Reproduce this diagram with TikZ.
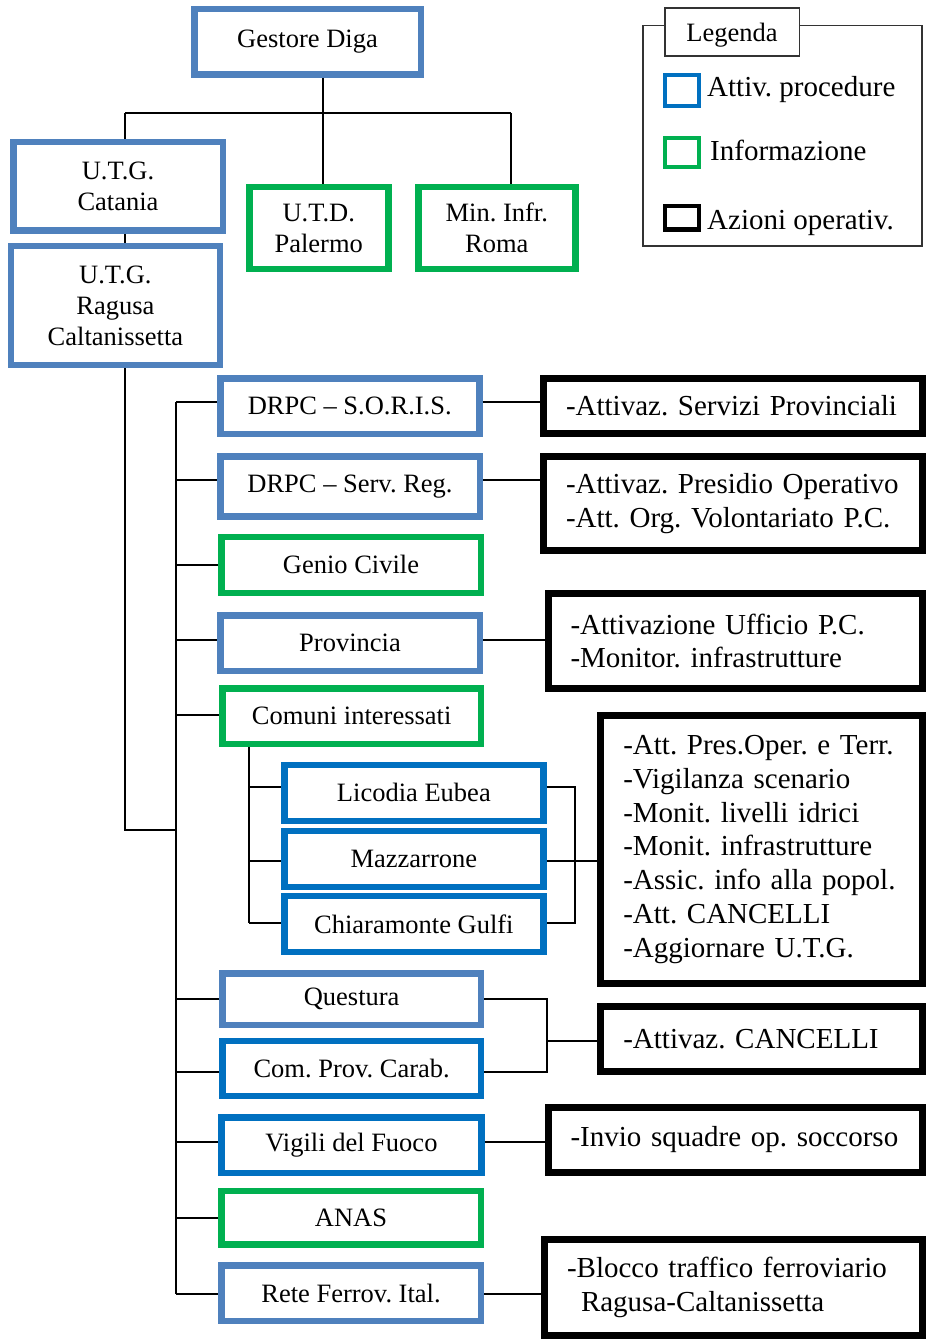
\documentclass[tikz,border=0pt]{standalone}
\usepackage{fontspec}
\setmainfont{Liberation Serif}
\definecolor{lblue}{RGB}{79,129,189}
\definecolor{dblue}{RGB}{0,112,192}
\definecolor{igreen}{RGB}{0,176,80}
\newcommand{\lbfont}{\fontsize{26.5}{31}\selectfont}
\newcommand{\acfont}{\fontsize{29}{33.7}\selectfont}
\frenchspacing
\begin{document}
\frenchspacing
\begin{tikzpicture}[x=1pt,y=-1pt,
  cb/.style 2 args={draw, line width=6.5pt, minimum width={#1-6.5}, minimum height={#2-6.5}, inner sep=0pt, align=center, font=\lbfont\frenchspacing},
  ab/.style 2 args={draw=black, line width=7pt, text width=#1, minimum height={#2-7}, inner xsep=22.5pt, inner ysep=0pt, align=left, font=\acfont\frenchspacing},
  con/.style={line width=2pt, draw=black},
  keybox/.style={line width=4pt, inner sep=0pt},
  keytext/.style={anchor=west, inner sep=0pt, font=\acfont\frenchspacing}
]
\useasboundingbox (0,0) rectangle (926,1340);

% top part
\node[cb={233}{72}, draw=lblue] (gestore) at (307.5,42) {Gestore Diga};
\node[cb={216}{95}, draw=lblue] (catania) at (118,186.5) {U.T.G.\\Catania};
\node[cb={215.3}{125}, draw=lblue] (ragusa) at (115.4,305.5) {U.T.G.\\Ragusa\\Caltanissetta};
\node[cb={145.5}{88}, draw=igreen] (utd) at (318.75,228) {U.T.D.\\Palermo};
\node[cb={163.6}{88}, draw=igreen] (mininfr) at (496.8,228) {Min. Infr.\\Roma};

% left column
\node[cb={265.5}{62}, draw=lblue] (soris) at (349.75,406) {DRPC -- S.O.R.I.S.};
\node[cb={266}{66.5}, draw=lblue] (servreg) at (350,486.25) {DRPC -- Serv. Reg.};
\node[cb={266}{62.5}, draw=igreen] (genio) at (351,564.75) {Genio Civile};
\node[cb={266}{62}, draw=lblue] (prov) at (350,643) {Provincia};
\node[cb={265.3}{62.3}, draw=igreen] (comuni) at (351.65,716.15) {Comuni interessati};
\node[cb={265.7}{62.3}, draw=dblue] (licodia) at (413.85,792.85) {Licodia Eubea};
\node[cb={265.7}{62.3}, draw=dblue] (mazz) at (413.85,858.85) {Mazzarrone};
\node[cb={265.7}{62.3}, draw=dblue] (chiar) at (413.85,923.85) {Chiaramonte Gulfi};
\node[cb={265.3}{58.3}, draw=lblue] (questura) at (351.65,999.15) {Questura};
\node[cb={265.3}{61.3}, draw=dblue] (carab) at (351.65,1068.35) {Com. Prov. Carab.};
\node[cb={266.3}{62}, draw=dblue] (vigili) at (351.45,1145) {Vigili del Fuoco};
\node[cb={266}{60}, draw=igreen] (anas) at (351,1217.7) {ANAS};
\node[cb={266}{62.3}, draw=lblue] (rete) at (351,1293.15) {Rete Ferrov. Ital.};

% action boxes
\node[ab={334pt}{62}] (sorisA) at (733,406) {\mbox{-Attivaz. Servizi Provinciali}};
\node[ab={334pt}{101}] (servA) at (733,503.8) {\mbox{-Attivaz. Presidio Operativo}\\\mbox{-Att. Org. Volontariato P.C.}};
\node[ab={329.5pt}{101.7}] (provA) at (735.25,640.85) {\mbox{-Attivazione Ufficio P.C.}\\\mbox{-Monitor. infrastrutture}};
\node[ab={276.7pt}{274.4}] (bigA) at (761.65,849.5) {\mbox{-Att. Pres.Oper. e Terr.}\\\mbox{-Vigilanza scenario}\\\mbox{-Monit. livelli idrici}\\\mbox{-Monit. infrastrutture}\\\mbox{-Assic. info alla popol.}\\\mbox{-Att. CANCELLI}\\\mbox{-Aggiornare U.T.G.}};
\node[ab={276.7pt}{72.5}] (cancA) at (761.65,1038.75) {\mbox{-Attivaz. CANCELLI}};
\node[ab={329.5pt}{72}] (vigA) at (735.25,1140) {\mbox{-Invio squadre op. soccorso}};
\node[ab={333pt}{103.3}] (reteA) at (733.5,1287.65) {\mbox{-Blocco traffico ferroviario}\\\mbox{\hspace*{14pt}Ragusa-Caltanissetta}};

% legend
\node[draw=black!80, line width=1.5pt, minimum width=279.2, minimum height=220.2, inner sep=0pt] (legend) at (782.35,135.85) {};
\node[draw=black!80, fill=white, line width=1.5pt, minimum width=134.5, minimum height=47.9, inner sep=0pt, text depth=0pt, font=\lbfont] (legtitle) at (732,32) {Legenda};
\node[keybox, draw=dblue, minimum width=34.3, minimum height=31.6] (keyb) at (681.85,90.5) {};
\node[keybox, draw=igreen, minimum width=34.3, minimum height=29] (keyg) at (681.85,152.5) {};
\node[keybox, draw=black, line width=4.5pt, minimum width=33.8, minimum height=23.2] (keyk) at (681.85,217.85) {};
\node[keytext] (keybt) at (707,90) {Attiv. procedure};
\node[keytext] (keygt) at (710,150) {Informazione};
\node[keytext] (keykt) at (707,222.5) {Azioni operativ.};

% connectors top
\coordinate (busL) at (125,113);
\coordinate (busM) at (323.4,113);
\coordinate (busR) at (511,113);
\draw[con] (gestore.south -| busM) -- (busM);
\draw[con] (busL) -- (busR);
\draw[con] (busL) -- (catania.north -| busL);
\draw[con] (busM) -- (utd.north -| busM);
\draw[con] (busR) -- (mininfr.north -| busR);
\draw[con] (catania.south -| busL) -- (ragusa.north -| busL);

% trunk
\coordinate (trunk) at (176,830);
\coordinate (j1) at (176,402);
\coordinate (j2) at (176,480);
\coordinate (j3) at (176,565);
\coordinate (j4) at (176,640);
\coordinate (j5) at (176,715);
\coordinate (j6) at (176,999);
\coordinate (j7) at (176,1071.7);
\coordinate (j8) at (176,1141.7);
\coordinate (j9) at (176,1217.7);
\coordinate (j10) at (176,1294);
\draw[con] (ragusa.south -| busL) |- (trunk);
\draw[con] (j1) -- (j10);
\draw[con] (j1) -- (j1 -| soris.west);
\draw[con] (j2) -- (j2 -| servreg.west);
\draw[con] (j3) -- (j3 -| genio.west);
\draw[con] (j4) -- (j4 -| prov.west);
\draw[con] (j5) -- (j5 -| comuni.west);
\draw[con] (j6) -- (j6 -| questura.west);
\draw[con] (j7) -- (j7 -| carab.west);
\draw[con] (j8) -- (j8 -| vigili.west);
\draw[con] (j9) -- (j9 -| anas.west);
\draw[con] (j10) -- (j10 -| rete.west);

% to action boxes
\draw[con] (soris.east |- j1) -- (j1 -| sorisA.west);
\draw[con] (servreg.east |- j2) -- (j2 -| servA.west);
\draw[con] (prov.east |- j4) -- (j4 -| provA.west);
\draw[con] (vigili.east |- j8) -- (j8 -| vigA.west);
\draw[con] (rete.east |- j10) -- (j10 -| reteA.west);

% comuni subtree
\coordinate (k1) at (249.3,787.3);
\coordinate (k2) at (249.3,861);
\coordinate (k3) at (249.3,922.7);
\draw[con] (comuni.south -| k1) -- (k3);
\draw[con] (k1) -- (k1 -| licodia.west);
\draw[con] (k2) -- (k2 -| mazz.west);
\draw[con] (k3) -- (k3 -| chiar.west);
\coordinate (r1) at (575.3,787.3);
\coordinate (r3) at (575.3,922.7);
\draw[con] (licodia.east |- r1) -- (r1) -- (r3) -- (r3 -| chiar.east);
\draw[con] (mazz.east |- k2) -- (k2 -| bigA.west);

% questura / carab
\coordinate (q1) at (547.3,999);
\coordinate (q2) at (547.3,1071.7);
\coordinate (q3) at (547.3,1040.7);
\draw[con] (questura.east |- q1) -- (q1) -- (q2) -- (q2 -| carab.east);
\draw[con] (q3) -- (q3 -| cancA.west);
\end{tikzpicture}
\end{document}
